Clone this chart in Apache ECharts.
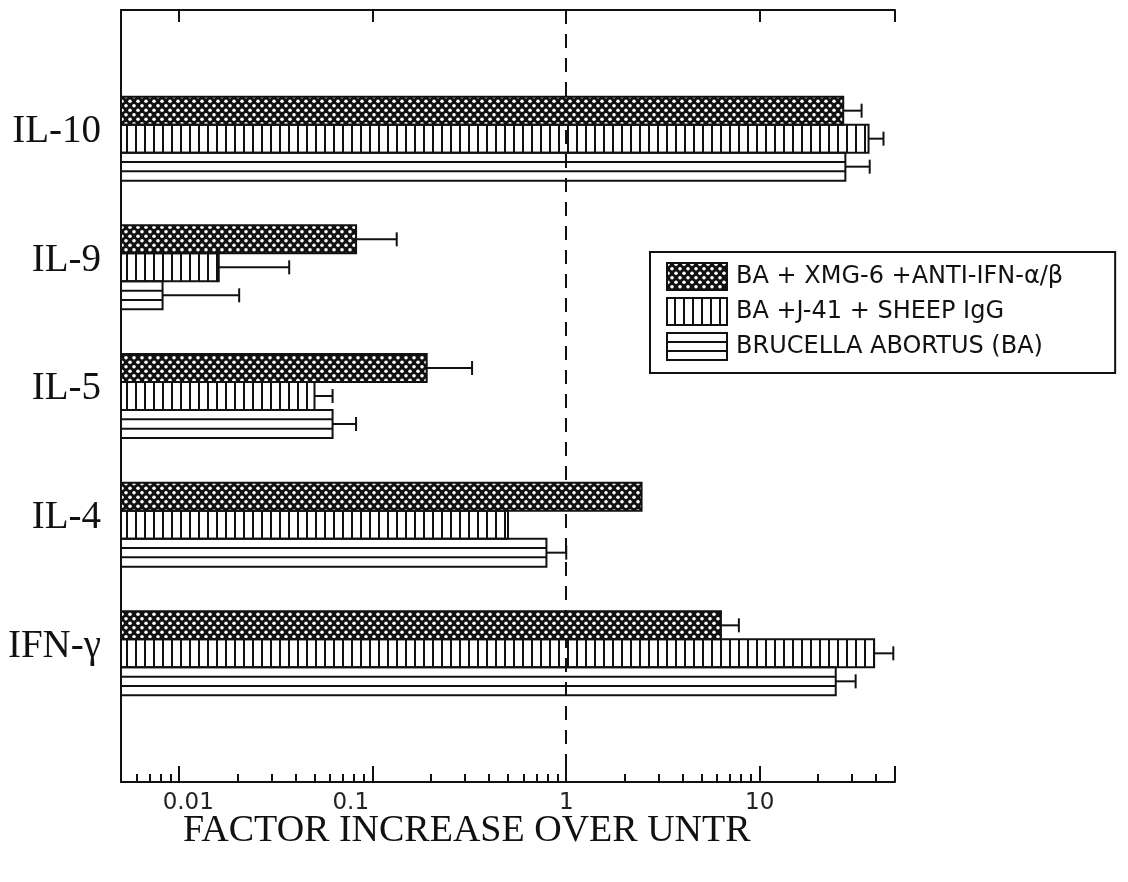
<!DOCTYPE html>
<html>
<head>
<meta charset="utf-8">
<script src="https://cdn.jsdelivr.net/npm/echarts@6/dist/echarts.min.js"></script>
<style>
  html, body { margin: 0; padding: 0; background: #fff; }
  #chart { width: 1128px; height: 882px; }
</style>
</head>
<body>
<div id="chart"></div>
<script>
// data (log scale, factor increase over untreated)
const CATEGORIES = ['IL-10', 'IL-9', 'IL-5', 'IL-4', 'IFN-γ']
const SERIES_NAMES = ['BA + XMG-6 +ANTI-IFN-α/β', 'BA +J-41 + SHEEP IgG', 'BRUCELLA ABORTUS (BA)']
const XMG_VALUES = [27, 0.082, 0.19, 2.45, 6.3]
const XMG_ERRORS = [33.6, 0.133, 0.326, null, 7.8]
const J41_VALUES = [36.5, 0.016, 0.05, 0.5, 39]
const J41_ERRORS = [43.6, 0.037, 0.062, null, 49]
const BA_VALUES = [27.7, 0.0082, 0.062, 0.79, 24.7]
const BA_ERRORS = [37, 0.0204, 0.082, 1.0, 31.3]
const TICK_LABELS = ['0.01', '0.1', '1', '10']
const X_MIN = 0.005
const X_MAX = 50

const INK = '#111'
const BAR_W = 28

// minor ticks of the log axis: 2..9 in every decade
const MINOR_TICKS = []
for (let d = -3; d <= 1; d++) {
  for (let k = 2; k <= 9; k++) {
    const v = k * Math.pow(10, d)
    if (v >= X_MIN - 1e-9 && v <= X_MAX + 1e-9) MINOR_TICKS.push(Math.log10(v))
  }
}

function makeTile(w, h, draw) {
  const c = document.createElement('canvas')
  c.width = w
  c.height = h
  draw(c.getContext('2d'))
  return c
}

// fill patterns
const crossTile = makeTile(8, 9, ctx => {
  ctx.fillStyle = INK
  ctx.fillRect(0, 0, 8, 9)
  ctx.fillStyle = '#fff'
  ;[[2, 2.25], [6, 6.75]].forEach(([x, y]) => {
    ctx.beginPath()
    ctx.arc(x, y, 1.8, 0, Math.PI * 2)
    ctx.fill()
  })
})
const stripeTile = makeTile(9, 4, ctx => {
  ctx.fillStyle = INK
  ctx.fillRect(0, 0, 2, 4)
})

const FILLS = [
  { image: crossTile, repeat: 'repeat' },
  { image: stripeTile, repeat: 'repeat' },
  'rgba(255,255,255,0)',
]

function makeIcon(kind) {
  const w = 62, h = 29
  const c = makeTile(w, h, ctx => {
    ctx.fillStyle = '#fff'
    ctx.fillRect(0, 0, w, h)
    ctx.fillStyle = INK
    if (kind === 0) {
      ctx.fillStyle = ctx.createPattern(crossTile, 'repeat')
      ctx.fillRect(0, 0, w, h)
    } else if (kind === 1) {
      for (let x = 8; x < w; x += 9) ctx.fillRect(x, 0, 2, h)
    } else {
      ctx.fillRect(0, 9, w, 2)
      ctx.fillRect(0, 18, w, 2)
    }
    ctx.strokeStyle = INK
    ctx.lineWidth = 2
    ctx.strokeRect(1, 1, w - 2, h - 2)
  })
  return 'image://' + c.toDataURL()
}

function groupSeries(i, values, errors) {
  return {
    name: SERIES_NAMES[i],
    type: 'custom',
    xAxisIndex: 0,
    yAxisIndex: 0,
    z: 2,
    encode: { x: [1, 2], y: 0 },
    data: CATEGORIES.map((c, k) => [c, values[k], errors[k] == null ? '-' : errors[k]]),
    renderItem(params, api) {
      const cat = api.value(0)
      const p = api.coord([api.value(1), cat])
      const x0 = params.coordSys.x
      const yc = p[1] + (i - 1) * BAR_W
      const top = yc - BAR_W / 2
      const line = (x1, y1, x2, y2) => ({
        type: 'line',
        shape: { x1, y1, x2, y2 },
        style: { stroke: INK, lineWidth: 2 },
      })
      const children = [{
        type: 'rect',
        shape: { x: x0, y: top, width: p[0] - x0, height: BAR_W },
        style: { fill: FILLS[i], stroke: INK, lineWidth: 2 },
      }]
      if (i === 2) {
        children.push(line(x0, top + BAR_W / 3, p[0], top + BAR_W / 3))
        children.push(line(x0, top + 2 * BAR_W / 3, p[0], top + 2 * BAR_W / 3))
      }
      const e = api.value(2)
      if (!isNaN(e)) {
        const q = api.coord([e, cat])
        children.push(line(p[0], yc, q[0], yc))
        children.push(line(q[0], yc - 7, q[0], yc + 7))
      }
      return { type: 'group', children }
    },
  }
}

const labelFont = { fontFamily: 'DejaVu Sans', fontSize: 23, color: '#222' }

const chart = echarts.init(document.getElementById('chart'))

const option = {
  backgroundColor: '#fff',
  animation: false,
  title: {
    text: 'FACTOR INCREASE OVER UNTR',
    left: 183,
    top: 812,
    padding: 0,
    textStyle: { fontFamily: 'Liberation Serif', fontSize: 38, fontWeight: 'normal', color: INK },
  },
  legend: {
    left: 650,
    top: 252,
    orient: 'vertical',
    selectedMode: false,
    borderColor: INK,
    borderWidth: 2,
    padding: [10, 52, 12, 16],
    itemGap: 6,
    itemWidth: 62,
    itemHeight: 29,
    textStyle: {
      fontFamily: 'DejaVu Sans',
      fontSize: 24,
      color: INK,
      padding: [0, 0, 0, 3],
    },
    data: SERIES_NAMES.map((name, i) => ({ name, icon: makeIcon(i) })),
  },
  grid: { left: 121, right: 233, top: 10, bottom: 100 },
  xAxis: [
    {
      type: 'log',
      logBase: 10,
      min: X_MIN,
      max: X_MAX,
      position: 'bottom',
      axisLine: { show: true, onZero: false, lineStyle: { color: INK, width: 2 } },
      axisTick: { show: true, inside: true, length: 16, lineStyle: { color: INK, width: 2 } },
      axisLabel: {
        margin: 10,
        ...labelFont,
        formatter(v) {
          const i = TICK_LABELS.findIndex(t => Math.abs(Math.log10(+t) - Math.log10(v)) < 1e-6)
          if (i < 0) return ''
          const t = TICK_LABELS[i]
          const key = t === '0.01' ? 'l' : t === '0.1' ? 'r' : 'n'
          return '{' + key + '|' + t + '}'
        },
        rich: {
          l: { ...labelFont, padding: [0, 0, 0, 18] },
          r: { ...labelFont, padding: [0, 44, 0, 0] },
          n: { ...labelFont },
        },
      },
      splitLine: { show: false },
    },
    {
      type: 'log',
      logBase: 10,
      min: X_MIN,
      max: X_MAX,
      position: 'top',
      axisLine: { show: true, onZero: false, lineStyle: { color: INK, width: 2 } },
      axisTick: { show: true, inside: true, length: 12, lineStyle: { color: INK, width: 2 } },
      axisLabel: { show: false },
      splitLine: { show: false },
    },
    {
      type: 'value',
      min: Math.log10(X_MIN),
      max: Math.log10(X_MAX),
      position: 'bottom',
      axisLine: { show: false, onZero: false },
      axisTick: {
        show: true,
        inside: true,
        length: 8,
        customValues: MINOR_TICKS,
        lineStyle: { color: INK, width: 2 },
      },
      axisLabel: { show: false },
      splitLine: { show: false },
    },
  ],
  yAxis: {
    type: 'category',
    inverse: true,
    boundaryGap: false,
    data: ['_top', ...CATEGORIES, '_bottom'],
    axisLine: { show: true, onZero: false, lineStyle: { color: INK, width: 2 } },
    axisTick: { show: false },
    axisLabel: {
      interval: 0,
      margin: 20,
      fontFamily: 'Liberation Serif',
      fontSize: 39,
      color: INK,
      formatter: v => (CATEGORIES.includes(v) ? '{c|' + v + '}' : ''),
      rich: {
        c: { fontFamily: 'Liberation Serif', fontSize: 39, color: INK, padding: [0, 0, 14, 0] },
      },
    },
    splitLine: { show: false },
  },
  series: [
    {
      ...groupSeries(0, XMG_VALUES, XMG_ERRORS),
      markLine: {
        silent: true,
        symbol: 'none',
        z: 1,
        label: { show: false },
        lineStyle: { color: INK, width: 2, type: [14, 10] },
        data: [{ xAxis: 1 }],
      },
    },
    groupSeries(1, J41_VALUES, J41_ERRORS),
    groupSeries(2, BA_VALUES, BA_ERRORS),
  ],
}

chart.setOption(option)
</script>
</body>
</html>
